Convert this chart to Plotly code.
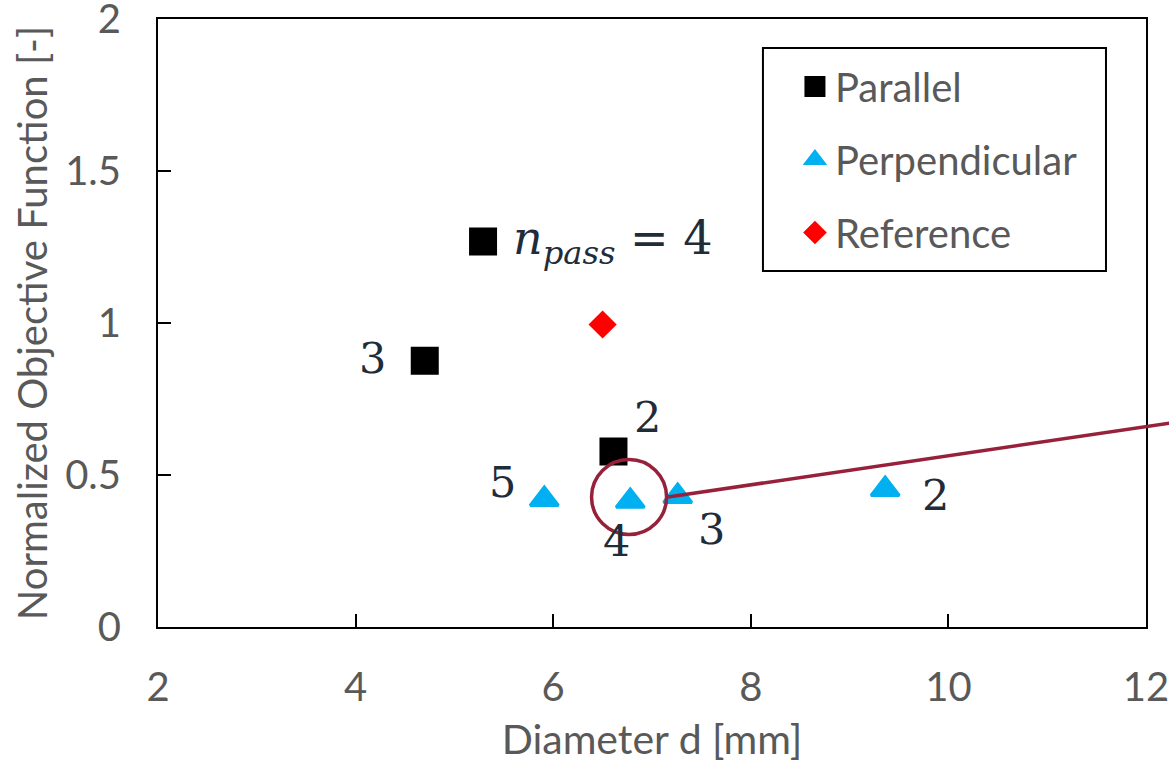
import plotly.graph_objects as go

# ---- data ----
par_x = [5.29, 4.70, 6.61]
par_y = [1.268, 0.876, 0.577]
par_labels = ["<i>n</i><sub><i>pass</i></sub> = 4", "3", "2"]

perp_x = [5.91, 6.78, 7.26, 9.36]
perp_y = [0.420, 0.414, 0.430, 0.453]
perp_labels = ["5", "4", "3", "2"]

ref_x = [6.50]
ref_y = [0.995]

x_ticks = [2, 4, 6, 8, 10, 12]
y_ticks = [0, 0.5, 1, 1.5, 2]

# ---- styles ----
AX_FONT = "Lato, Carlito, 'Open Sans', sans-serif"
GRAY = "#595959"
LBL_COLOR = "#1F2D3A"
LBL_FONT = "'DejaVu Serif', 'Liberation Serif', serif"
BLUE = "#00B0F0"
DARKRED = "#97213A"

fig = go.Figure()
fig.add_trace(go.Scatter(
    x=par_x, y=par_y, mode="markers", name="Parallel", legendgroup="a",
    marker=dict(symbol="square", size=23, color="black",
                line=dict(color="black", width=5)),
))
fig.add_trace(go.Scatter(
    x=perp_x, y=perp_y, mode="markers", name="Perpendicular", legendgroup="b",
    marker=dict(symbol="triangle-up", size=24.5, color=BLUE,
                line=dict(color=BLUE, width=3)),
))
fig.add_trace(go.Scatter(
    x=ref_x, y=ref_y, mode="markers", name="Reference", legendgroup="c",
    marker=dict(symbol="diamond", size=19.5, color="red",
                line=dict(color="red", width=2)),
))

# point labels (offsets in px, font size)
par_off = [(28, 0, "left", 46), (-52, 3, "center", 43), (34, 35, "center", 43)]
perp_off = [(-42, 17), (-14, -40), (34, -33), (50, -5.5)]

for (x, y, t, (dx, dy, xa, fs)) in zip(par_x, par_y, par_labels, par_off):
    fig.add_annotation(x=x, y=y, text=t, showarrow=False, xshift=dx, yshift=dy,
                       xanchor=xa, yanchor="middle",
                       font=dict(family=LBL_FONT, size=fs, color=LBL_COLOR))
for (x, y, t, (dx, dy)) in zip(perp_x, perp_y, perp_labels, perp_off):
    fig.add_annotation(x=x, y=y, text=t, showarrow=False, xshift=dx, yshift=dy,
                       xanchor="center", yanchor="middle",
                       font=dict(family=LBL_FONT, size=43, color=LBL_COLOR))

# highlight circle around the 4-pass perpendicular point and the pointer line
fig.add_shape(type="circle", xref="x", yref="y",
              xsizemode="pixel", ysizemode="pixel",
              xanchor=perp_x[1], yanchor=perp_y[1],
              x0=-38.7, x1=36.3, y0=-33.3, y1=41.7,
              line=dict(color=DARKRED, width=3.5))
fig.add_shape(type="line", xref="paper", yref="paper",
              x0=0.5162, y0=0.2138, x1=1.03, y1=0.3366,
              line=dict(color=DARKRED, width=3.5))

# legend frame
fig.add_shape(type="rect", xref="paper", yref="paper", layer="above",
              x0=0.6123, x1=0.9595, y0=0.5855, y1=0.9523,
              line=dict(color="black", width=2), fillcolor="rgba(0,0,0,0)")

axis_common = dict(
    showgrid=False, zeroline=False, automargin=False,
    showline=True, linecolor="black", linewidth=2, mirror=True,
    ticks="inside", ticklen=13, tickwidth=2, tickcolor="black",
    ticklabeloverflow="allow",
    tickfont=dict(family=AX_FONT, size=40, color=GRAY),
)

fig.update_layout(
    width=1169, height=763,
    margin=dict(l=158, r=23, t=19, b=136),
    paper_bgcolor="white", plot_bgcolor="white",
    xaxis=dict(range=[2, 12], tickvals=x_ticks, ticklabelstandoff=24,
               title=dict(text="Diameter d [mm]", standoff=23,
                          font=dict(family=AX_FONT, size=41, color=GRAY)),
               **axis_common),
    yaxis=dict(range=[0, 2], tickvals=y_ticks, ticklabelstandoff=27,
               title=dict(text="Normalized Objective Function [-]", standoff=5,
                          font=dict(family=AX_FONT, size=40, color=GRAY)),
               **axis_common),
    legend=dict(x=0.6123, y=0.9424, xanchor="left", yanchor="top",
                borderwidth=0, bgcolor="rgba(0,0,0,0)",
                font=dict(family=AX_FONT, size=40, color=GRAY),
                tracegroupgap=18, itemsizing="trace", indentation=32),
    showlegend=True,
)

fig.write_html("out.html", config={"displayModeBar": False},
               post_script="document.body.style.margin='0';document.body.style.overflow='hidden';")
